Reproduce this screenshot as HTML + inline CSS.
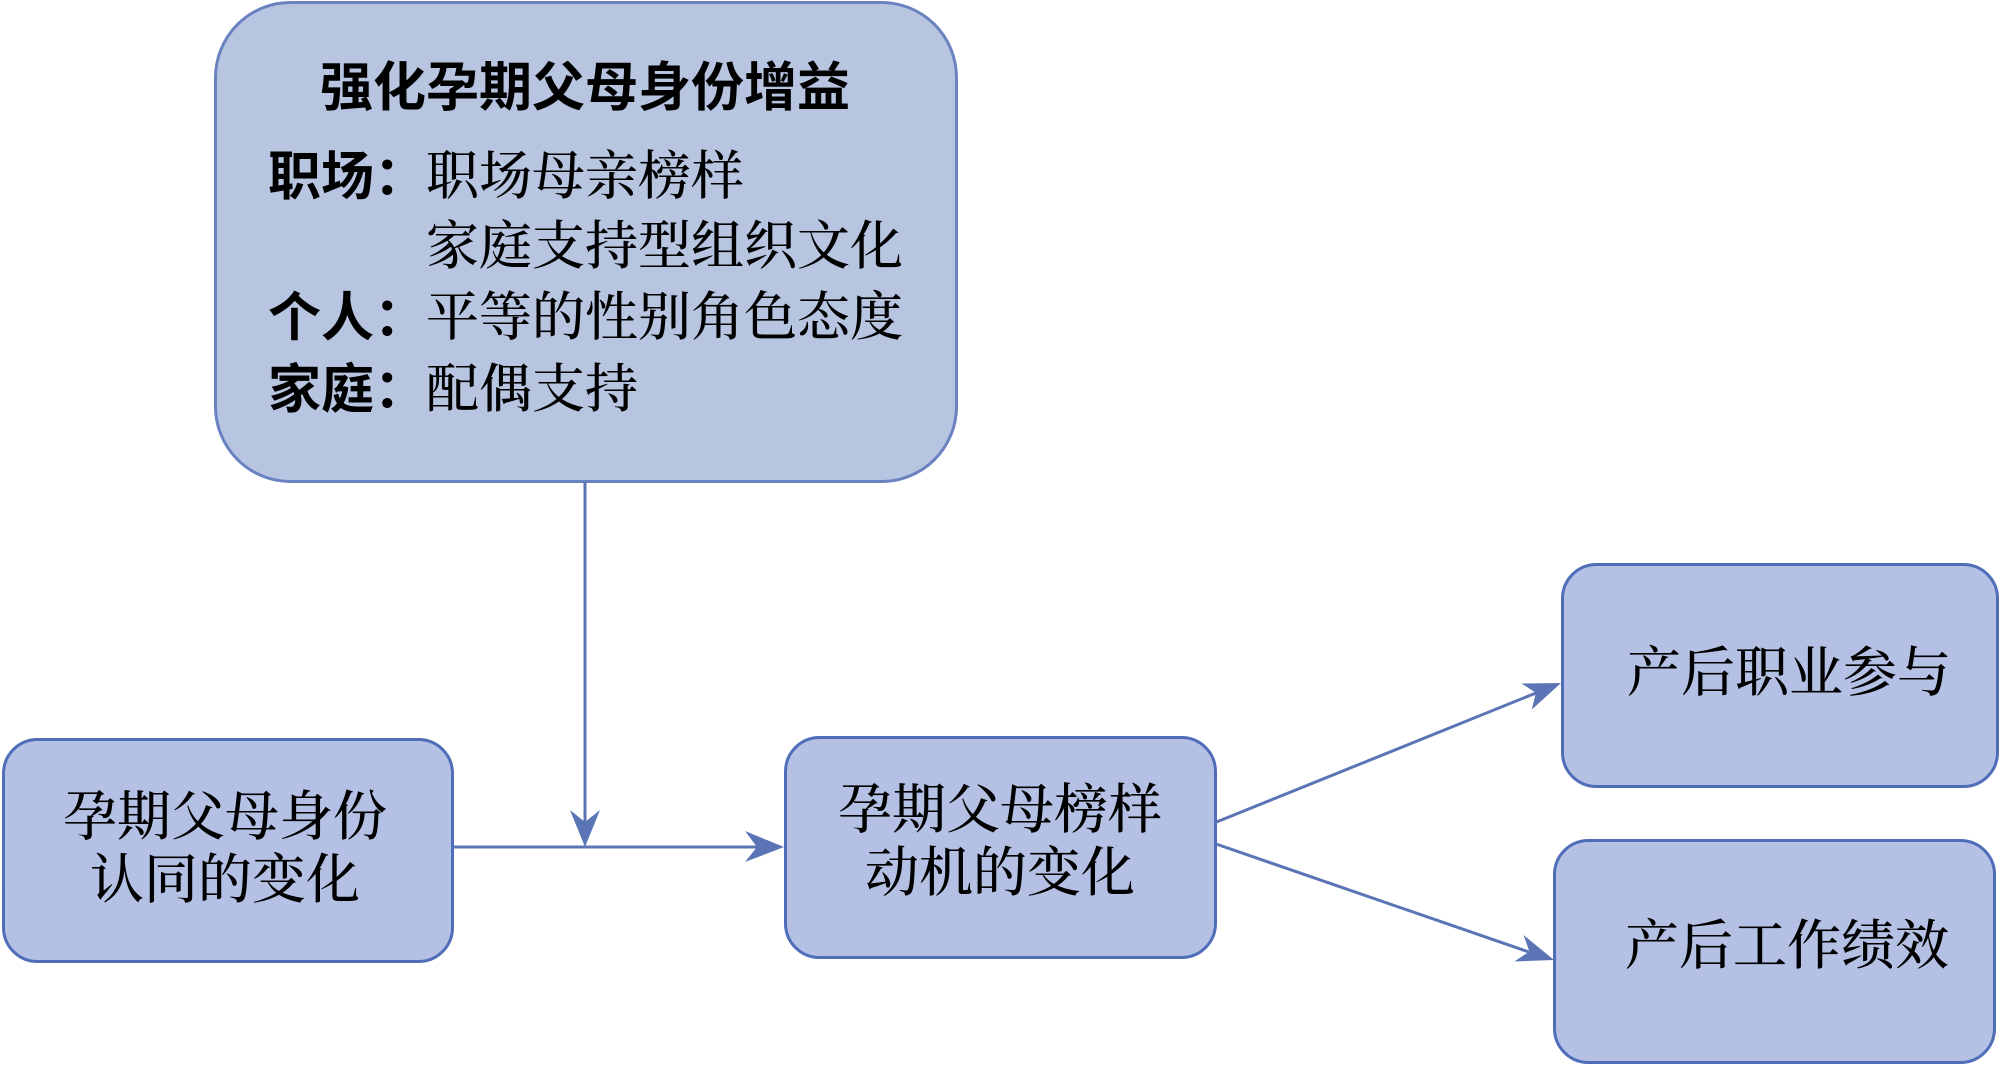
<!DOCTYPE html>
<html>
<head>
<meta charset="utf-8">
<style>
  html, body { margin: 0; padding: 0; background: #ffffff; }
  body { width: 2000px; height: 1067px; overflow: hidden; }
  svg { display: block; }
  .sans { font-family: "Liberation Sans", "Noto Sans CJK SC", sans-serif; font-weight: 700; }
  .serif { font-family: "Liberation Serif", "Noto Serif CJK SC", serif; font-weight: 500; }
</style>
</head>
<body>
<svg width="2000" height="1067" viewBox="0 0 2000 1067" xmlns="http://www.w3.org/2000/svg">
  <!-- Top box -->
  <rect x="215.5" y="2.5" width="741" height="479" rx="75" ry="75" fill="#B7C5E1" stroke="#6A82C0" stroke-width="3"/>
  <text x="585" y="88" text-anchor="middle" dominant-baseline="central" class="sans" font-size="53" fill="#000">强化孕期父母身份增益</text>

  <text x="268" y="177" dominant-baseline="central" class="sans" font-size="53" fill="#000">职场：</text>
  <text x="426" y="177" dominant-baseline="central" class="serif" font-size="53" fill="#000">职场母亲榜样</text>
  <text x="426" y="247" dominant-baseline="central" class="serif" font-size="53" fill="#000">家庭支持型组织文化</text>
  <text x="268" y="318" dominant-baseline="central" class="sans" font-size="53" fill="#000">个人：</text>
  <text x="426" y="318" dominant-baseline="central" class="serif" font-size="53" fill="#000">平等的性别角色态度</text>
  <text x="268" y="390" dominant-baseline="central" class="sans" font-size="53" fill="#000">家庭：</text>
  <text x="426" y="390" dominant-baseline="central" class="serif" font-size="53" fill="#000">配偶支持</text>

  <!-- Left box -->
  <rect x="3.5" y="739.5" width="449" height="222" rx="34" ry="34" fill="#B4C1E4" stroke="#4F6DB9" stroke-width="3"/>
  <text x="225" y="817" text-anchor="middle" dominant-baseline="central" class="serif" font-size="54" fill="#000">孕期父母身份</text>
  <text x="225" y="880" text-anchor="middle" dominant-baseline="central" class="serif" font-size="54" fill="#000">认同的变化</text>

  <!-- Middle box -->
  <rect x="785.5" y="737.5" width="430" height="220" rx="34" ry="34" fill="#B4C1E4" stroke="#4F6DB9" stroke-width="3"/>
  <text x="1000" y="810" text-anchor="middle" dominant-baseline="central" class="serif" font-size="54" fill="#000">孕期父母榜样</text>
  <text x="1000" y="873" text-anchor="middle" dominant-baseline="central" class="serif" font-size="54" fill="#000">动机的变化</text>

  <!-- Right top box -->
  <rect x="1562.5" y="564.5" width="435" height="222" rx="34" ry="34" fill="#B4C1E4" stroke="#4F6DB9" stroke-width="3"/>
  <text x="1627" y="673" dominant-baseline="central" class="serif" font-size="54" fill="#000">产后职业参与</text>

  <!-- Right bottom box -->
  <rect x="1554.5" y="840.5" width="440" height="222" rx="34" ry="34" fill="#B4C1E4" stroke="#4F6DB9" stroke-width="3"/>
  <text x="1625" y="946" dominant-baseline="central" class="serif" font-size="54" fill="#000">产后工作绩效</text>

  <!-- Connectors -->
  <g stroke="#5B74B5" stroke-width="3" fill="none">
    <line x1="585" y1="482" x2="585" y2="824"/>
    <line x1="453" y1="847" x2="759" y2="847"/>
    <line x1="1214" y1="823" x2="1536" y2="693"/>
    <line x1="1216" y1="844" x2="1529" y2="952"/>
  </g>
  <g fill="#5B74B5" stroke="none">
    <polygon points="585,847 570,810 585,822 600,810"/>
    <polygon points="784,847 745,831 757,847 745,862"/>
    <polygon points="1561,683 1521.4,683.5 1535.9,692.7 1531.8,709.5"/>
    <polygon points="1554,960 1523.6,935.1 1529.4,951.5 1514.4,961.5"/>
  </g>
</svg>
</body>
</html>
